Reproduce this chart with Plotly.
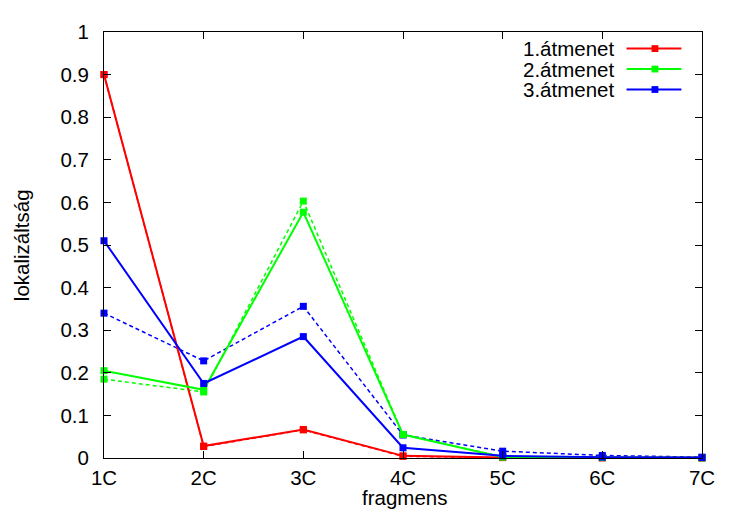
import plotly.graph_objects as go

categories = ["1C", "2C", "3C", "4C", "5C", "6C", "7C"]

# solid lines
atm1 = [0.900, 0.028, 0.067, 0.005, 0.001, 0.0005, 0.0003]
atm2 = [0.205, 0.160, 0.577, 0.055, 0.002, 0.001, 0.0005]
atm3 = [0.510, 0.175, 0.285, 0.024, 0.005, 0.002, 0.001]
# dashed lines
atm1_d = [0.900, 0.027, 0.066, 0.004, 0.001, 0.0005, 0.0003]
atm2_d = [0.185, 0.155, 0.603, 0.055, 0.003, 0.001, 0.0005]
atm3_d = [0.340, 0.228, 0.356, 0.054, 0.016, 0.006, 0.002]

y_ticks = [0, 0.1, 0.2, 0.3, 0.4, 0.5, 0.6, 0.7, 0.8, 0.9, 1]
y_ticktext = ["0", "0.1", "0.2", "0.3", "0.4", "0.5", "0.6", "0.7", "0.8", "0.9", "1"]

legend_names = ["1.átmenet", "2.átmenet", "3.átmenet"]
colors = ["#ff0000", "#00ff00", "#0000ff"]

# page has an 8px body margin on every side; keep the figure inside the window
OFF = 8
W, H = 735 - 2 * OFF, 520 - 2 * OFF
PL, PR, PT, PB = 104, 714, 21, 458   # plot area in page pixels
FONT = "Liberation Sans, Arial, Helvetica, sans-serif"
FS = 20.5

xs = list(range(len(categories)))
fig = go.Figure()

solid = [atm1, atm2, atm3]
dashed = [atm1_d, atm2_d, atm3_d]

for vals, c in zip(dashed, colors):
    fig.add_trace(go.Scatter(x=xs, y=vals, mode="lines+markers",
                             line=dict(color=c, width=1.5, dash="4px,3px"),
                             marker=dict(symbol="square", size=7, color=c),
                             showlegend=False, cliponaxis=False))
for vals, c, n in zip(solid, colors, legend_names):
    fig.add_trace(go.Scatter(x=xs, y=vals, mode="lines+markers", name=n,
                             line=dict(color=c, width=2),
                             marker=dict(symbol="square", size=7, color=c),
                             showlegend=False, cliponaxis=False))

pw, ph = PR - PL, PB - PT
def px(x):
    return (x - PL) / pw
def py(y):
    return (PB - y) / ph

# gnuplot-style legend: text on the left, sample on the right
rows = [38, 59, 80]
for n, c, yy in zip(legend_names, colors, rows):
    fig.add_annotation(x=px(626), y=py(yy), xref="paper", yref="paper",
                       text=n, showarrow=False, xanchor="right", yanchor="middle",
                       font=dict(size=FS, color="#000000", family=FONT))
    fig.add_shape(type="line", xref="paper", yref="paper",
                  x0=px(637), x1=px(693), y0=py(yy), y1=py(yy),
                  line=dict(color=c, width=2))
    fig.add_shape(type="rect", xref="paper", yref="paper",
                  x0=px(662.5), x1=px(669.5), y0=py(yy - 3.5), y1=py(yy + 3.5),
                  line=dict(width=0), fillcolor=c)

# axis titles
fig.add_annotation(x=px(411), y=py(512), xref="paper", yref="paper",
                   text="fragmens", showarrow=False, xanchor="center", yanchor="bottom",
                   font=dict(size=FS, color="#000000", family=FONT))
fig.add_annotation(x=px(20), y=py(240), xref="paper", yref="paper",
                   text="lokalizáltság", showarrow=False, xanchor="center", yanchor="middle",
                   textangle=-90, font=dict(size=FS, color="#000000", family=FONT))

axis_common = dict(showline=True, linecolor="#000000", linewidth=1, mirror="allticks",
                   ticks="inside", ticklen=7, tickcolor="#000000", tickwidth=1,
                   showgrid=False, zeroline=False, ticklabeloverflow="allow",
                   tickfont=dict(size=FS, color="#000000", family=FONT))

fig.update_xaxes(range=[0, len(categories) - 1], tickvals=xs, ticktext=categories,
                 ticklabelstandoff=1, **axis_common)
fig.update_yaxes(range=[0, 1], tickvals=y_ticks, ticktext=y_ticktext,
                 ticklabelstandoff=10, **axis_common)

fig.update_layout(width=W, height=H,
                  margin=dict(l=PL - OFF, r=(735 - OFF) - PR, t=PT - OFF, b=(520 - OFF) - PB),
                  plot_bgcolor="white", paper_bgcolor="white",
                  font=dict(family=FONT, size=FS, color="#000000"),
                  showlegend=False)

fig.write_html("out.html", config={"displayModeBar": False})
